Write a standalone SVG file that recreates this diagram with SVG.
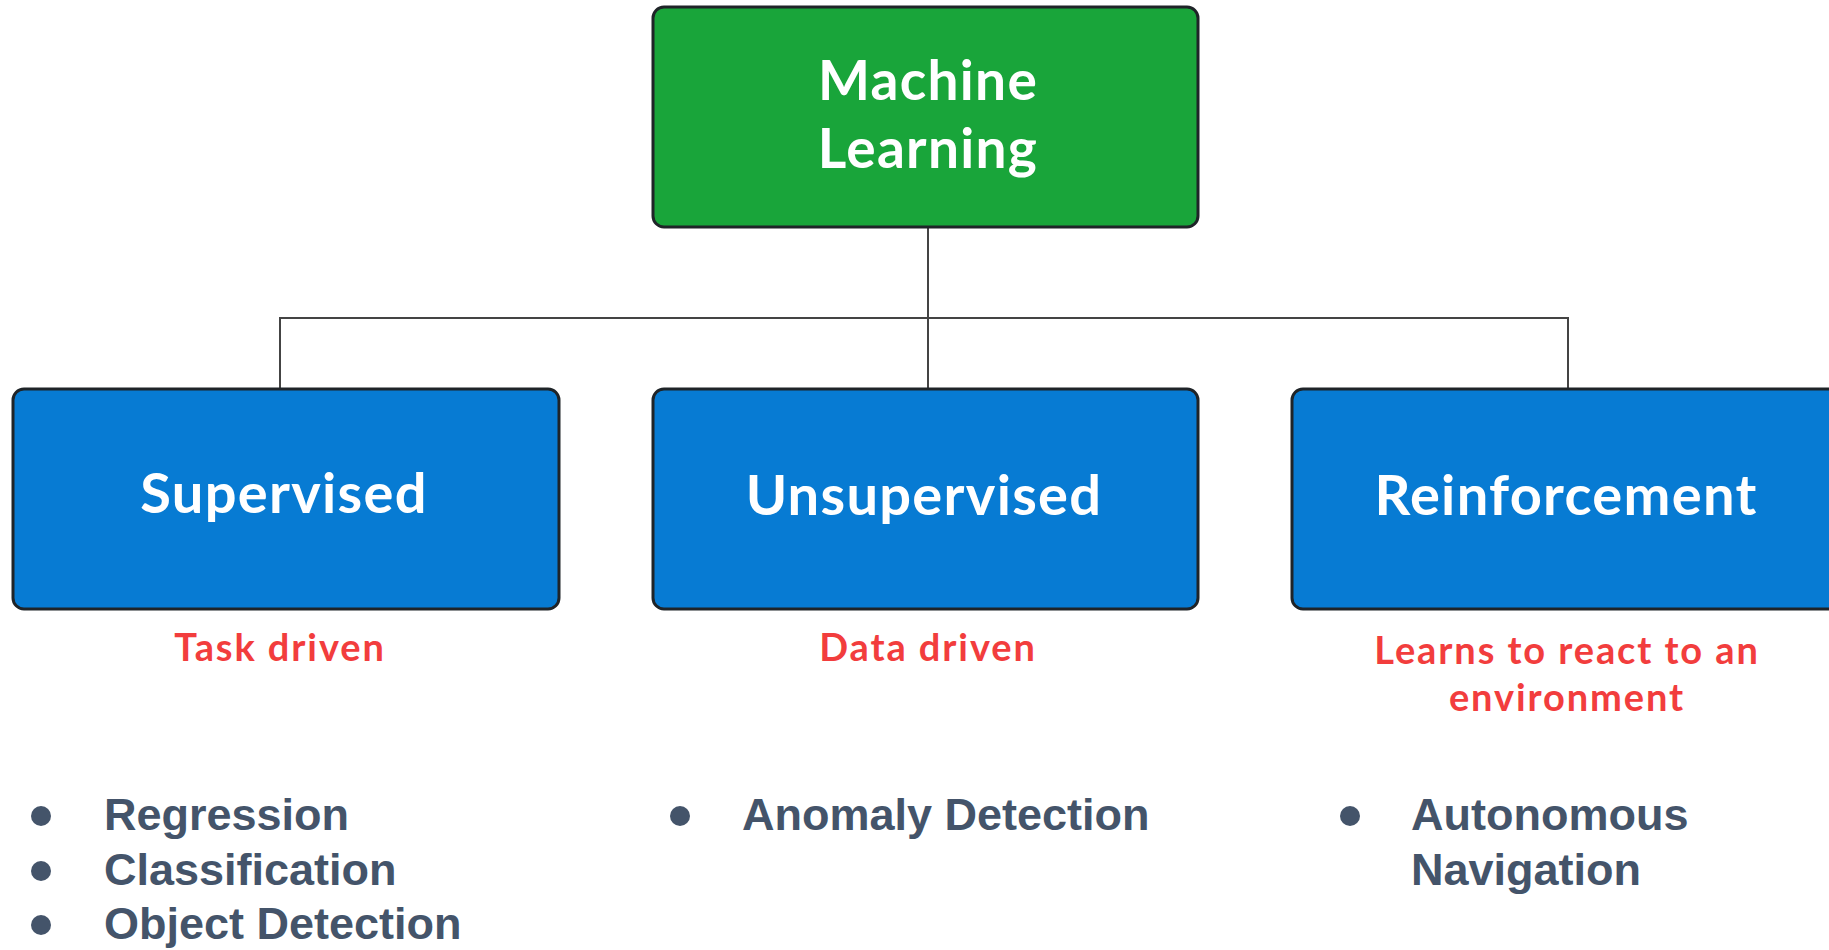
<svg xmlns="http://www.w3.org/2000/svg" width="1829" height="950" viewBox="0 0 1829 950">
  <style>
    .box { stroke: #1f2428; stroke-width: 3; }
    .root { fill: #19a53a; }
    .kind { fill: #077bd3; }
    .title { font-family: Lato, "Noto Sans", sans-serif; font-weight: bold; fill: #ffffff; text-anchor: middle; letter-spacing: 1.3px; }
    .note { font-family: Lato, "Noto Sans", sans-serif; font-weight: bold; font-size: 38px; fill: #f23d3d; text-anchor: middle; letter-spacing: 1.9px; }
    .item { font-family: "Liberation Sans", Arial, sans-serif; font-weight: bold; font-size: 45px; fill: #44546a; }
    .dot { fill: #44546a; }
    .wire { fill: none; stroke: #444444; stroke-width: 2; }
  </style>

  <rect width="1829" height="950" fill="#ffffff"/>

  <g id="connectors">
    <path class="wire" d="M928 227 V388"/>
    <path class="wire" d="M280 388 V318 H1568 V388"/>
  </g>

  <g id="machine-learning">
    <rect class="box root" x="653" y="7" width="545" height="220" rx="11"/>
    <text class="title" x="928" y="100" font-size="55">Machine</text>
    <text class="title" x="928" y="168" font-size="55">Learning</text>
  </g>

  <g id="supervised">
    <rect class="box kind" x="13" y="389" width="546" height="220" rx="11"/>
    <text class="title" x="284" y="513" font-size="56">Supervised</text>
    <text class="note" x="280" y="661">Task driven</text>
  </g>

  <g id="unsupervised">
    <rect class="box kind" x="653" y="389" width="545" height="220" rx="11"/>
    <text class="title" x="924" y="515" font-size="56">Unsupervised</text>
    <text class="note" x="928" y="661">Data driven</text>
  </g>

  <g id="reinforcement">
    <rect class="box kind" x="1292" y="389" width="560" height="220" rx="11"/>
    <text class="title" x="1566" y="515" font-size="56">Reinforcement</text>
    <text class="note" x="1567" y="664">Learns to react to an</text>
    <text class="note" x="1567" y="711">environment</text>
  </g>

  <g id="supervised-tasks">
    <circle class="dot" cx="41" cy="816" r="10"/>
    <circle class="dot" cx="41" cy="871" r="10"/>
    <circle class="dot" cx="41" cy="925" r="10"/>
    <text class="item" x="104" y="830">Regression</text>
    <text class="item" x="104" y="885">Classification</text>
    <text class="item" x="104" y="939">Object Detection</text>
  </g>

  <g id="unsupervised-tasks">
    <circle class="dot" cx="680" cy="816" r="10"/>
    <text class="item" x="742" y="830">Anomaly Detection</text>
  </g>

  <g id="reinforcement-tasks">
    <circle class="dot" cx="1350" cy="816" r="10"/>
    <text class="item" x="1411" y="830">Autonomous</text>
    <text class="item" x="1411" y="885">Navigation</text>
  </g>
</svg>
